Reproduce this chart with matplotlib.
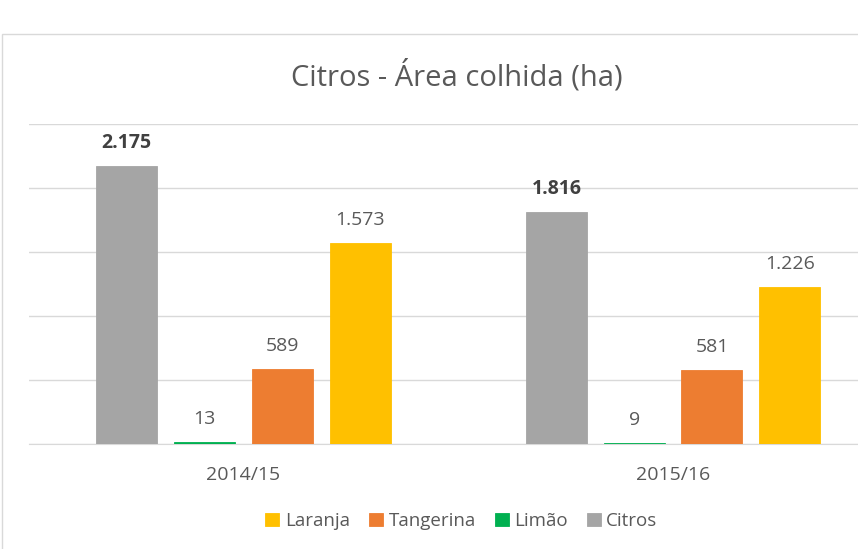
"""Citros - area colhida (ha), grouped columns in the Excel look."""

import numpy as np
import matplotlib.pyplot as plt
from matplotlib.patches import Rectangle

# data
safras = ['2014/15', '2015/16']
citros = [2175, 1816]
limao = [13, 9]
tangerina = [589, 581]
laranja = [1573, 1226]
labels_citros = ['2.175', '1.816']
labels_limao = ['13', '9']
labels_tangerina = ['589', '581']
labels_laranja = ['1.573', '1.226']

plt.rcParams['font.family'] = ['Open Sans', 'DejaVu Sans']
txt = '#595959'

fig = plt.figure(figsize=(8.58, 5.49), dpi=100)

# chart frame (cropped on the right and bottom in the original)
fig.patches.append(Rectangle((2 / 858, -0.1), 1.2, (549 - 34) / 549 + 0.1,
                             transform=fig.transFigure, fill=False,
                             edgecolor='#D9D9D9', linewidth=1.0))

ax = fig.add_axes([28.5 / 858, 105 / 549, 859.4 / 858, 320 / 549])

x = np.arange(len(safras))
w = 0.142
step = 0.181
series = [
    (citros, labels_citros, '#A5A5A5', 'Citros', True),
    (limao, labels_limao, '#00B050', 'Limão', False),
    (tangerina, labels_tangerina, '#ED7D31', 'Tangerina', False),
    (laranja, labels_laranja, '#FFC000', 'Laranja', False),
]
handles = {}
for i, (vals, labs, col, name, bold) in enumerate(series):
    pos = x + (i - 1.5) * step
    b = ax.bar(pos, vals, width=w, color=col, edgecolor=col, linewidth=0.6, zorder=3)
    handles[name] = b
    for p, v, lab in zip(pos, vals, labs):
        ax.annotate(lab, (p, v), xytext=(0, 16.5), textcoords='offset points',
                    ha='center', va='center', fontsize=14,
                    fontweight='bold' if bold else 'normal',
                    color='#404040' if bold else txt)

ax.set_xlim(-0.5, 1.5)
ax.set_ylim(0, 2500)
ax.set_yticks(np.arange(0, 2501, 500))
ax.yaxis.grid(True, color='#D9D9D9', linewidth=1.0, zorder=0)
ax.set_axisbelow(True)
ax.tick_params(axis='y', left=False, labelleft=False)
ax.tick_params(axis='x', bottom=False, labelsize=14, labelcolor=txt, pad=12)
ax.set_xticks(x)
ax.set_xticklabels(safras)
for s in ['top', 'right', 'left']:
    ax.spines[s].set_visible(False)
ax.spines['bottom'].set_color('#D9D9D9')
ax.patch.set_alpha(0)

fig.text(457 / 858, 1 - 76 / 549, 'Citros - Área colhida (ha)', ha='center',
         va='center', fontsize=21, color=txt)

order = ['Laranja', 'Tangerina', 'Limão', 'Citros']
leg = fig.legend([handles[n] for n in order], order, loc='center',
                 bbox_to_anchor=(461.5 / 858, 1 - 521 / 549), ncol=4,
                 frameon=False, fontsize=13.5, handlelength=0.75, handleheight=0.75,
                 handletextpad=0.3, columnspacing=1.0, labelcolor=txt)

fig.savefig('out.png', dpi=100)
